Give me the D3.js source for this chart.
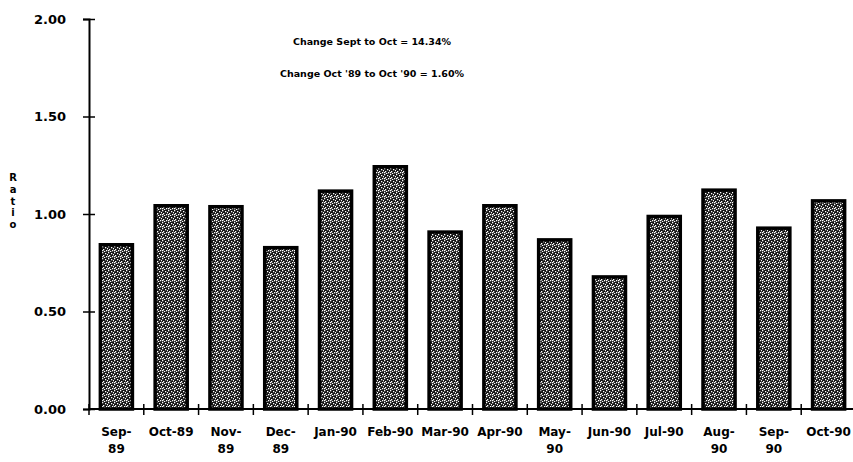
<!DOCTYPE html>
<html>
<head>
<meta charset="utf-8">
<script src="https://cdn.jsdelivr.net/npm/d3@7"></script>
<style>
  body { margin: 0; background: #fff; }
  text { font-family: "DejaVu Sans", sans-serif; font-weight: bold; fill: #000; }
</style>
</head>
<body>
<script>
const months = ["Sep-89", "Oct-89", "Nov-89", "Dec-89", "Jan-90", "Feb-90", "Mar-90",
  "Apr-90", "May-90", "Jun-90", "Jul-90", "Aug-90", "Sep-90", "Oct-90"];
// two-line labels as printed under the bars
const monthLabels = [["Sep-", "89"], ["Oct-89"], ["Nov-", "89"], ["Dec-", "89"], ["Jan-90"],
  ["Feb-90"], ["Mar-90"], ["Apr-90"], ["May-", "90"], ["Jun-90"], ["Jul-90"], ["Aug-", "90"],
  ["Sep-", "90"], ["Oct-90"]];
const ratio = [0.85, 1.05, 1.045, 0.835, 1.125, 1.25, 0.915, 1.05, 0.875, 0.685, 0.995, 1.13, 0.935, 1.075];
const yTicks = [0, 0.5, 1, 1.5, 2];
const notes = ["Change Sept to Oct = 14.34%", "Change Oct '89 to Oct '90 = 1.60%"];

const width = 853;
const height = 462;

const svg = d3.select("body").append("svg")
  .attr("width", width)
  .attr("height", height);

// stipple fill for the bars
const pat = svg.append("defs").append("pattern")
  .attr("id", "stipple")
  .attr("patternUnits", "userSpaceOnUse")
  .attr("width", 6).attr("height", 6);
pat.append("rect").attr("width", 6).attr("height", 6).attr("fill", "#151515");
[[0, 0], [3, 1], [1, 3], [4, 4], [2, 5], [5, 2], [0, 4]].forEach(([a, b]) =>
  pat.append("rect").attr("x", a).attr("y", b).attr("width", 1.3).attr("height", 1.3).attr("fill", "#fff"));

const x = d3.scaleBand()
  .domain(months)
  .range([89, 856])
  .paddingInner(0.36)
  .paddingOuter(0.18);

const y = d3.scaleLinear().domain([0, 2]).range([409, 19]);

// bars
svg.append("g")
  .selectAll("rect")
  .data(months)
  .join("rect")
  .attr("x", d => x(d) + 1.5)
  .attr("y", (d, i) => y(ratio[i]) + 1.5)
  .attr("width", x.bandwidth() - 3)
  .attr("height", (d, i) => y(0) - y(ratio[i]) - 1.5)
  .attr("fill", "url(#stipple)")
  .attr("stroke", "#000")
  .attr("stroke-width", 3.5);

// y axis
svg.append("g")
  .attr("transform", `translate(${x.range()[0]},0)`)
  .call(d3.axisLeft(y).tickValues(yTicks).tickFormat(d3.format(".2f")).tickSize(6).tickPadding(17))
  .call(g => g.select(".domain").attr("stroke-width", 2))
  .call(g => g.selectAll(".tick line").attr("x1", 6).attr("stroke-width", 1.5))
  .call(g => g.selectAll(".tick text").style("font-size", "13px").attr("font-family", null));

// x axis with ticks between bars
const step = x.step();
const bounds = months.map(d => x(d) - step * x.paddingInner() / 2);
svg.append("line")
  .attr("x1", x.range()[0]).attr("x2", width)
  .attr("y1", y(0)).attr("y2", y(0))
  .attr("stroke", "#000").attr("stroke-width", 2);
svg.append("g")
  .selectAll("line")
  .data(bounds)
  .join("line")
  .attr("x1", d => d).attr("x2", d => d)
  .attr("y1", y(0) - 5).attr("y2", y(0) + 6)
  .attr("stroke", "#000").attr("stroke-width", 1.5);

// month labels
const lbl = svg.append("g")
  .selectAll("text")
  .data(months)
  .join("text")
  .attr("x", d => x(d) + x.bandwidth() / 2)
  .attr("y", 436)
  .attr("text-anchor", "middle")
  .style("font-size", "12px");
lbl.selectAll("tspan")
  .data((d, i) => monthLabels[i])
  .join("tspan")
  .attr("x", function () { return this.parentNode.getAttribute("x"); })
  .attr("dy", (d, i) => i === 0 ? 0 : 17)
  .text(d => d);

// axis title, one letter per line
svg.append("g")
  .selectAll("text")
  .data("Ratio".split(""))
  .join("text")
  .attr("x", 13)
  .attr("y", (d, i) => 181 + i * 11.8)
  .attr("text-anchor", "middle")
  .style("font-size", "10px")
  .text(d => d);

// notes
svg.append("g")
  .selectAll("text")
  .data(notes)
  .join("text")
  .attr("x", 372)
  .attr("y", (d, i) => 45 + i * 32)
  .attr("text-anchor", "middle")
  .style("font-size", "9.5px")
  .text(d => d);
</script>
</body>
</html>
